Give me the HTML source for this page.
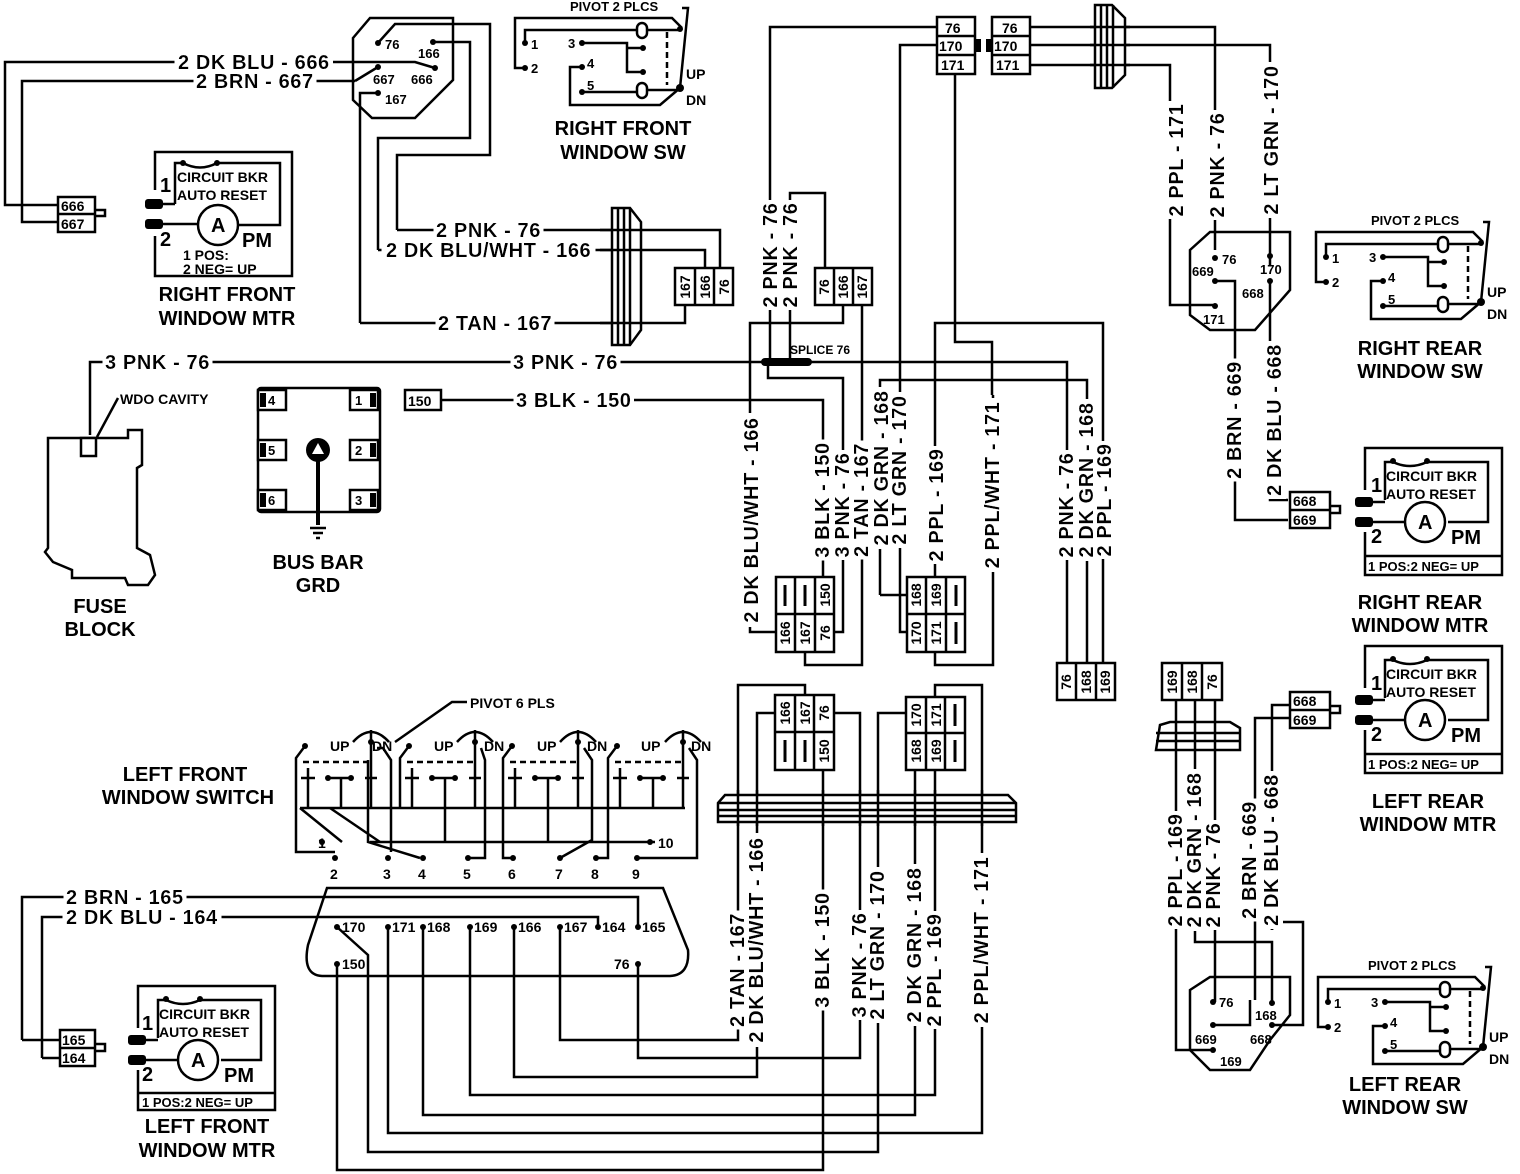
<!DOCTYPE html>
<html><head><meta charset="utf-8"><style>
html,body{margin:0;padding:0;background:#fff}
svg{display:block}
text{font-family:"Liberation Sans",Arial,sans-serif;font-weight:bold;fill:#000}
.w{font-size:20px;letter-spacing:0.6px;filter:url(#bg)}
.t{font-size:20px}
.s{font-size:13px}
.m{font-size:14px}
.c{font-size:14px;text-anchor:middle;dominant-baseline:central}
.l{fill:none;stroke:#000;stroke-width:2.5}
.f{fill:#fff;stroke:#000;stroke-width:2.5}
</style></head><body>
<svg width="1520" height="1174" viewBox="0 0 1520 1174" xmlns="http://www.w3.org/2000/svg">
<defs>
<filter id="bg" x="-0.02" y="0" width="1.04" height="1"><feFlood flood-color="#fff"/><feComposite in="SourceGraphic" operator="over"/></filter>
</defs>

<!-- ===== TOP LEFT ===== -->
<path class="l" d="M340,62 H5 V205 H58"/>
<path class="l" d="M355,81 H22 V222 H58"/>
<path class="l" d="M340,62 H415 L435,68"/>
<path class="l" d="M355,81 L378,67"/>
<text class="w" x="178" y="69">2 DK BLU - 666</text>
<text class="w" x="196" y="88">2 BRN - 667</text>
<rect class="f" x="58" y="197" width="37" height="35"/>
<line class="l" x1="58" y1="214" x2="95" y2="214"/>
<path class="l" d="M95,210 H105 V216 H95"/>
<text class="m" x="61" y="211">666</text><text class="m" x="61" y="229">667</text>

<polygon class="l" points="353,38 370,18 453,18 453,80 415,118 372,118 353,100"/>
<circle cx="378" cy="43" r="3"/><circle cx="433" cy="42" r="3"/><circle cx="435" cy="68" r="3"/><circle cx="378" cy="67" r="3"/><circle cx="378" cy="93" r="3"/>
<text class="s" x="385" y="49">76</text><text class="s" x="418" y="58">166</text>
<text class="s" x="373" y="84">667</text><text class="s" x="411" y="84">666</text><text class="s" x="385" y="104">167</text>
<path class="l" d="M378,43 L395,24 H490 V155 H397 V230"/>
<path class="l" d="M433,42 H470 V138 H378 V250"/>
<path class="l" d="M378,93 H360 V323"/>
<path class="l" d="M397,230 H720 V268"/>
<path class="l" d="M378,250 H705 V268"/>
<path class="l" d="M360,323 H685 V305"/>
<text class="w" x="436" y="237">2 PNK - 76</text>
<text class="w" x="386" y="257">2 DK BLU/WHT - 166</text>
<text class="w" x="438" y="330">2 TAN - 167</text>
<path class="f" d="M612,208 H630 L641,222 V330 L630,345 H612 Z"/>
<line class="l" x1="618" y1="208" x2="618" y2="345"/><line class="l" x1="624" y1="208" x2="624" y2="345"/><line class="l" x1="630" y1="208" x2="630" y2="345"/>
<line class="l" x1="600" y1="230" x2="641" y2="230"/><line class="l" x1="600" y1="250" x2="641" y2="250"/><line class="l" x1="600" y1="323" x2="641" y2="323"/>
<rect class="f" x="675" y="268" width="58" height="37"/>
<line class="l" x1="695" y1="268" x2="695" y2="305"/><line class="l" x1="714" y1="268" x2="714" y2="305"/>
<text class="c" transform="translate(685,287) rotate(-90)">167</text>
<text class="c" transform="translate(705,287) rotate(-90)">166</text>
<text class="c" transform="translate(724,287) rotate(-90)">76</text>

<g transform="translate(155,152)">
<path class="l" d="M0,38 V0 H137 V124 H0 V84"/>
<path class="l" d="M20,52 V11 H28 M62,11 H125 V73 H83"/>
<path class="l" d="M28,11 Q45,20 62,11"/><circle cx="28" cy="11" r="3"/><circle cx="62" cy="11" r="3"/>
<rect x="-10" y="47" width="18" height="10" rx="3"/><rect x="-10" y="67" width="18" height="10" rx="3"/>
<path class="l" d="M8,52 H20 M8,72 H43"/>
<circle class="f" cx="63" cy="73" r="20"/>
<text class="t" x="56" y="80">A</text>
<text class="m" x="22" y="30">CIRCUIT BKR</text><text class="m" x="22" y="48">AUTO RESET</text>
<text class="t" x="5" y="40">1</text><text class="t" x="5" y="94">2</text>
<text class="t" x="87" y="95">PM</text>
<text class="m" x="28" y="108">1 POS:</text><text class="m" x="28" y="122">2 NEG= UP</text>
</g>
<text class="t" x="227" y="301" text-anchor="middle">RIGHT FRONT</text>
<text class="t" x="227" y="325" text-anchor="middle">WINDOW MTR</text>

<g transform="translate(500,0)">
<path class="l" d="M25,68 H15 V18 H172 L182,28"/>
<path class="l" d="M25,43 V30 H137 M147,30 H180"/>
<rect class="f" x="137" y="23" width="10" height="15" rx="5"/>
<path class="l" d="M82,43 H127 V72 H143 M127,48 H143"/>
<circle cx="143" cy="48" r="3"/><circle cx="143" cy="72" r="3"/>
<path class="l" d="M82,67 H70 V105 H160 L180,88"/>
<path class="l" d="M82,92 H137 M147,90 H180"/>
<rect class="f" x="137" y="83" width="10" height="15" rx="5"/>
<line class="l" x1="167" y1="32" x2="167" y2="85" stroke-dasharray="6,4"/>
<path class="l" d="M182,8 H188 L180,88"/>
<circle cx="180" cy="29" r="3"/><circle cx="180" cy="88" r="4"/>
<circle cx="25" cy="43" r="3"/><circle cx="25" cy="68" r="3"/><circle cx="82" cy="43" r="3"/><circle cx="82" cy="67" r="3"/><circle cx="82" cy="92" r="3"/>
<text class="s" x="70" y="11">PIVOT 2 PLCS</text>
<text class="s" x="31" y="49">1</text><text class="s" x="31" y="73">2</text>
<text class="s" x="68" y="48">3</text><text class="s" x="87" y="68">4</text><text class="s" x="87" y="90">5</text>
<text class="m" x="186" y="79">UP</text><text class="m" x="186" y="105">DN</text>
</g>
<text class="t" x="623" y="135" text-anchor="middle">RIGHT FRONT</text>
<text class="t" x="623" y="159" text-anchor="middle">WINDOW SW</text>

<!-- ===== TOP CENTER ===== -->
<rect class="f" x="937" y="17" width="38" height="57"/>
<line class="l" x1="937" y1="36" x2="975" y2="36"/><line class="l" x1="937" y1="55" x2="975" y2="55"/>
<rect class="f" x="992" y="17" width="38" height="57"/>
<line class="l" x1="992" y1="36" x2="1030" y2="36"/><line class="l" x1="992" y1="55" x2="1030" y2="55"/>
<rect x="975" y="39" width="6" height="13"/><rect x="986" y="39" width="6" height="13"/>
<text class="m" x="945" y="33">76</text><text class="m" x="939" y="51">170</text><text class="m" x="941" y="70">171</text>
<text class="m" x="1002" y="33">76</text><text class="m" x="994" y="51">170</text><text class="m" x="996" y="70">171</text>

<path class="l" d="M937,27 H770 V362"/>
<path class="l" d="M937,45 H900 V395"/>
<path class="l" d="M955,74 V342 H992 V395"/>
<path class="l" d="M935,580 V323 H1103 V663"/>
<path class="l" d="M1030,27 H1215 V250"/>
<path class="l" d="M1030,45 H1270 V265"/>
<path class="l" d="M1030,65 H1170 V305 H1213"/>
<path class="f" d="M1095,5 H1112 L1125,18 V75 L1112,88 H1095 Z"/>
<line class="l" x1="1101" y1="5" x2="1101" y2="88"/><line class="l" x1="1107" y1="5" x2="1107" y2="88"/><line class="l" x1="1113" y1="5" x2="1113" y2="88"/>
<line class="l" x1="1090" y1="27" x2="1130" y2="27"/><line class="l" x1="1090" y1="45" x2="1130" y2="45"/><line class="l" x1="1090" y1="65" x2="1130" y2="65"/>
<text class="w" transform="translate(1183,160) rotate(-90)" text-anchor="middle">2 PPL - 171</text>
<text class="w" transform="translate(1224,165) rotate(-90)" text-anchor="middle">2 PNK - 76</text>
<text class="w" transform="translate(1278,140) rotate(-90)" text-anchor="middle">2 LT GRN - 170</text>

<path class="l" d="M790,305 V193 H825 V268"/>
<rect class="f" x="815" y="268" width="57" height="37"/>
<line class="l" x1="834" y1="268" x2="834" y2="305"/><line class="l" x1="853" y1="268" x2="853" y2="305"/>
<text class="c" transform="translate(824,287) rotate(-90)">76</text>
<text class="c" transform="translate(843,287) rotate(-90)">166</text>
<text class="c" transform="translate(862,287) rotate(-90)">167</text>
<path class="l" d="M843,305 V323 H750 V632 H776"/>
<path class="l" d="M862,305 V665 H805 V652"/>
<path class="l" d="M790,305 V362"/>
<path class="l" d="M768,362 V378 H843 V632 H834"/>
<path d="M765,362 H808" stroke="#000" stroke-width="8" stroke-linecap="round"/>
<text class="s" x="790" y="354" style="font-size:12px">SPLICE 76</text>
<text class="w" transform="translate(777,255) rotate(-90)" text-anchor="middle">2 PNK - 76</text>
<text class="w" transform="translate(797,255) rotate(-90)" text-anchor="middle">2 PNK - 76</text>

<path class="l" d="M90,435 V362 H1067 V663"/>
<text class="w" x="105" y="369">3 PNK - 76</text>
<text class="w" x="513" y="369">3 PNK - 76</text>
<rect class="f" x="405" y="390" width="36" height="20"/><text class="m" x="408" y="406">150</text>
<path class="l" d="M441,400 H823 V577"/>
<text class="w" x="516" y="407">3 BLK - 150</text>
<path class="l" d="M880,595 V380 H1087 V663"/>
<path class="l" d="M907,595 H880"/>
<path class="l" d="M907,632 H900 V395"/>
<path class="l" d="M935,652 V665 H993 V395"/>

<text class="w" transform="translate(758,520) rotate(-90)" text-anchor="middle">2 DK BLU/WHT - 166</text>
<text class="w" transform="translate(829,500) rotate(-90)" text-anchor="middle">3 BLK - 150</text>
<text class="w" transform="translate(849,505) rotate(-90)" text-anchor="middle">3 PNK - 76</text>
<text class="w" transform="translate(868,500) rotate(-90)" text-anchor="middle">2 TAN - 167</text>
<text class="w" transform="translate(888,468) rotate(-90)" text-anchor="middle">2 DK GRN - 168</text>
<text class="w" transform="translate(906,470) rotate(-90)" text-anchor="middle">2 LT GRN - 170</text>
<text class="w" transform="translate(943,505) rotate(-90)" text-anchor="middle">2 PPL - 169</text>
<text class="w" transform="translate(999,485) rotate(-90)" text-anchor="middle">2 PPL/WHT - 171</text>
<text class="w" transform="translate(1073,505) rotate(-90)" text-anchor="middle">2 PNK - 76</text>
<text class="w" transform="translate(1093,480) rotate(-90)" text-anchor="middle">2 DK GRN - 168</text>
<text class="w" transform="translate(1111,500) rotate(-90)" text-anchor="middle">2 PPL - 169</text>

<rect class="f" x="776" y="577" width="58" height="75"/>
<line class="l" x1="795" y1="577" x2="795" y2="652"/><line class="l" x1="815" y1="577" x2="815" y2="652"/><line class="l" x1="776" y1="614" x2="834" y2="614"/>
<line x1="785" y1="585" x2="785" y2="606" stroke="#000" stroke-width="3"/><line x1="805" y1="585" x2="805" y2="606" stroke="#000" stroke-width="3"/>
<text class="c" transform="translate(825,595) rotate(-90)">150</text>
<text class="c" transform="translate(785,633) rotate(-90)">166</text>
<text class="c" transform="translate(805,633) rotate(-90)">167</text>
<text class="c" transform="translate(825,633) rotate(-90)">76</text>

<rect class="f" x="907" y="577" width="58" height="75"/>
<line class="l" x1="926" y1="577" x2="926" y2="652"/><line class="l" x1="946" y1="577" x2="946" y2="652"/><line class="l" x1="907" y1="614" x2="965" y2="614"/>
<line x1="956" y1="585" x2="956" y2="606" stroke="#000" stroke-width="3"/><line x1="956" y1="622" x2="956" y2="644" stroke="#000" stroke-width="3"/>
<text class="c" transform="translate(916,595) rotate(-90)">168</text>
<text class="c" transform="translate(936,595) rotate(-90)">169</text>
<text class="c" transform="translate(916,633) rotate(-90)">170</text>
<text class="c" transform="translate(936,633) rotate(-90)">171</text>

<rect class="f" x="1057" y="663" width="58" height="37"/>
<line class="l" x1="1076" y1="663" x2="1076" y2="700"/><line class="l" x1="1096" y1="663" x2="1096" y2="700"/>
<text class="c" transform="translate(1066,682) rotate(-90)">76</text>
<text class="c" transform="translate(1086,682) rotate(-90)">168</text>
<text class="c" transform="translate(1105,682) rotate(-90)">169</text>

<!-- fuse block -->
<path class="l" d="M48,438 H128 V430 H142 V465 L137,468 V548 L150,555 L155,575 L148,585 H128 L125,578 H72 V570 L53,562 L45,552 L48,548 Z"/>
<rect class="f" x="81" y="438" width="15" height="18"/>
<path class="l" d="M97,437 L118,398"/>
<text class="s" x="120" y="404" style="font-size:14px">WDO CAVITY</text>
<text class="t" x="100" y="613" text-anchor="middle">FUSE</text>
<text class="t" x="100" y="636" text-anchor="middle">BLOCK</text>

<!-- bus bar -->
<rect class="l" x="258" y="388" width="122" height="124" rx="3"/>
<g>
<rect class="f" x="258" y="390" width="28" height="20"/><rect x="260" y="393" width="6" height="14"/><text class="s" x="268" y="405">4</text>
<rect class="f" x="258" y="440" width="28" height="20"/><rect x="260" y="443" width="6" height="14"/><text class="s" x="268" y="455">5</text>
<rect class="f" x="258" y="490" width="28" height="20"/><rect x="260" y="493" width="6" height="14"/><text class="s" x="268" y="505">6</text>
<rect class="f" x="350" y="390" width="28" height="20"/><rect x="370" y="393" width="6" height="14"/><text class="s" x="355" y="405">1</text>
<rect class="f" x="350" y="440" width="28" height="20"/><rect x="370" y="443" width="6" height="14"/><text class="s" x="355" y="455">2</text>
<rect class="f" x="350" y="490" width="28" height="20"/><rect x="370" y="493" width="6" height="14"/><text class="s" x="355" y="505">3</text>
</g>
<circle cx="318" cy="450" r="12"/><polygon points="318,443 312,454 324,454" fill="#fff"/>
<line x1="318" y1="460" x2="318" y2="525" stroke="#000" stroke-width="4"/>
<path class="l" d="M310,528 H326 M313,533 H323 M316,538 H320"/>
<text class="t" x="318" y="569" text-anchor="middle">BUS BAR</text>
<text class="t" x="318" y="592" text-anchor="middle">GRD</text>

<!-- ===== RIGHT SIDE ===== -->
<polygon class="l" points="1190,250 1210,232 1290,232 1290,290 1255,330 1210,330 1190,315"/>
<circle cx="1215" cy="258" r="3"/><circle cx="1270" cy="256" r="3"/><circle cx="1215" cy="281" r="3"/><circle cx="1270" cy="281" r="3"/><circle cx="1215" cy="306" r="3"/>
<text class="s" x="1222" y="264">76</text><text class="s" x="1260" y="274">170</text>
<text class="s" x="1192" y="276">669</text><text class="s" x="1242" y="298">668</text><text class="s" x="1203" y="324">171</text>
<path class="l" d="M1215,281 H1235 V520 H1288"/>
<path class="l" d="M1270,281 V500 H1288"/>
<text class="w" transform="translate(1241,420) rotate(-90)" text-anchor="middle">2 BRN - 669</text>
<text class="w" transform="translate(1281,420) rotate(-90)" text-anchor="middle">2 DK BLU - 668</text>
<rect class="f" x="1290" y="492" width="40" height="36"/>
<line class="l" x1="1290" y1="510" x2="1330" y2="510"/>
<path class="l" d="M1330,506 H1340 V513 H1330"/>
<text class="m" x="1293" y="506">668</text><text class="m" x="1293" y="525">669</text>

<g transform="translate(1301,214)">
<path class="l" d="M25,68 H15 V18 H172 L182,28"/>
<path class="l" d="M25,43 V30 H137 M147,30 H180"/>
<rect class="f" x="137" y="23" width="10" height="15" rx="5"/>
<path class="l" d="M82,43 H127 V72 H143 M127,48 H143"/>
<circle cx="143" cy="48" r="3"/><circle cx="143" cy="72" r="3"/>
<path class="l" d="M82,67 H70 V105 H160 L180,88"/>
<path class="l" d="M82,92 H137 M147,90 H180"/>
<rect class="f" x="137" y="83" width="10" height="15" rx="5"/>
<line class="l" x1="167" y1="32" x2="167" y2="85" stroke-dasharray="6,4"/>
<path class="l" d="M182,8 H188 L180,88"/>
<circle cx="180" cy="29" r="3"/><circle cx="180" cy="88" r="4"/>
<circle cx="25" cy="43" r="3"/><circle cx="25" cy="68" r="3"/><circle cx="82" cy="43" r="3"/><circle cx="82" cy="67" r="3"/><circle cx="82" cy="92" r="3"/>
<text class="s" x="70" y="11">PIVOT 2 PLCS</text>
<text class="s" x="31" y="49">1</text><text class="s" x="31" y="73">2</text>
<text class="s" x="68" y="48">3</text><text class="s" x="87" y="68">4</text><text class="s" x="87" y="90">5</text>
<text class="m" x="186" y="83">UP</text><text class="m" x="186" y="105">DN</text>
</g>
<text class="t" x="1420" y="355" text-anchor="middle">RIGHT REAR</text>
<text class="t" x="1420" y="378" text-anchor="middle">WINDOW SW</text>

<g transform="translate(1365,448)">
<path class="l" d="M0,42 V0 H137 V127 H0 V84"/>
<path class="l" d="M20,52 V14 H28 M62,14 H123 V74 H83"/>
<path class="l" d="M28,14 Q45,22 62,14"/><circle cx="28" cy="13" r="3"/><circle cx="62" cy="13" r="3"/>
<rect x="-10" y="49" width="18" height="10" rx="3"/><rect x="-10" y="69" width="18" height="10" rx="3"/>
<path class="l" d="M8,54 H20 M8,74 H40"/>
<circle class="f" cx="60" cy="74" r="20"/>
<text class="t" x="53" y="81">A</text>
<text class="m" x="21" y="33">CIRCUIT BKR</text><text class="m" x="21" y="51">AUTO RESET</text>
<text class="t" x="6" y="44">1</text><text class="t" x="6" y="95">2</text>
<text class="t" x="86" y="96">PM</text>
<line class="l" x1="0" y1="108" x2="137" y2="108"/>
<text class="s" x="3" y="123">1 POS:2 NEG= UP</text>
</g>
<text class="t" x="1420" y="609" text-anchor="middle">RIGHT REAR</text>
<text class="t" x="1420" y="632" text-anchor="middle">WINDOW MTR</text>

<g transform="translate(1365,646)">
<path class="l" d="M0,42 V0 H137 V127 H0 V84"/>
<path class="l" d="M20,52 V14 H28 M62,14 H123 V74 H83"/>
<path class="l" d="M28,14 Q45,22 62,14"/><circle cx="28" cy="13" r="3"/><circle cx="62" cy="13" r="3"/>
<rect x="-10" y="49" width="18" height="10" rx="3"/><rect x="-10" y="69" width="18" height="10" rx="3"/>
<path class="l" d="M8,54 H20 M8,74 H40"/>
<circle class="f" cx="60" cy="74" r="20"/>
<text class="t" x="53" y="81">A</text>
<text class="m" x="21" y="33">CIRCUIT BKR</text><text class="m" x="21" y="51">AUTO RESET</text>
<text class="t" x="6" y="44">1</text><text class="t" x="6" y="95">2</text>
<text class="t" x="86" y="96">PM</text>
<line class="l" x1="0" y1="108" x2="137" y2="108"/>
<text class="s" x="3" y="123">1 POS:2 NEG= UP</text>
</g>
<text class="t" x="1428" y="808" text-anchor="middle">LEFT REAR</text>
<text class="t" x="1428" y="831" text-anchor="middle">WINDOW MTR</text>

<rect class="f" x="1162" y="663" width="60" height="37"/>
<line class="l" x1="1182" y1="663" x2="1182" y2="700"/><line class="l" x1="1202" y1="663" x2="1202" y2="700"/>
<text class="c" transform="translate(1172,682) rotate(-90)">169</text>
<text class="c" transform="translate(1192,682) rotate(-90)">168</text>
<text class="c" transform="translate(1212,682) rotate(-90)">76</text>
<path class="f" d="M1160,725 L1170,722 H1230 L1240,728 V750 H1156 Z"/>
<line class="l" x1="1156" y1="733" x2="1240" y2="733"/><line class="l" x1="1156" y1="741" x2="1240" y2="741"/>
<path class="l" d="M1176,700 V1050 H1213"/>
<path class="l" d="M1195,700 V942 H1272 V1003"/>
<path class="l" d="M1215,700 V1002"/>
<path class="l" d="M1255,1000 V718 H1290"/>
<path class="l" d="M1272,930 V705 H1290"/>
<path class="l" d="M1272,930 V922 H1303 V1025 H1272"/>
<path class="l" d="M1213,1025 H1250 V1000"/>
<text class="w" transform="translate(1182,870) rotate(-90)" text-anchor="middle">2 PPL - 169</text>
<text class="w" transform="translate(1201,850) rotate(-90)" text-anchor="middle">2 DK GRN - 168</text>
<text class="w" transform="translate(1220,875) rotate(-90)" text-anchor="middle">2 PNK - 76</text>
<text class="w" transform="translate(1256,860) rotate(-90)" text-anchor="middle">2 BRN - 669</text>
<text class="w" transform="translate(1278,850) rotate(-90)" text-anchor="middle">2 DK BLU - 668</text>
<rect class="f" x="1290" y="692" width="40" height="36"/>
<line class="l" x1="1290" y1="710" x2="1330" y2="710"/>
<path class="l" d="M1330,706 H1340 V713 H1330"/>
<text class="m" x="1293" y="706">668</text><text class="m" x="1293" y="725">669</text>
<polygon class="l" points="1190,990 1210,977 1290,977 1290,1015 1270,1040 1250,1070 1210,1070 1190,1050"/>
<circle cx="1213" cy="1002" r="3"/><circle cx="1272" cy="1003" r="3"/><circle cx="1213" cy="1025" r="3"/><circle cx="1272" cy="1025" r="3"/><circle cx="1213" cy="1050" r="3"/>
<text class="s" x="1219" y="1007">76</text><text class="s" x="1255" y="1020">168</text>
<text class="s" x="1195" y="1044">669</text><text class="s" x="1250" y="1044">668</text><text class="s" x="1220" y="1066">169</text>

<g transform="translate(1303,959)">
<path class="l" d="M25,68 H15 V18 H172 L182,28"/>
<path class="l" d="M25,43 V30 H137 M147,30 H180"/>
<rect class="f" x="137" y="23" width="10" height="15" rx="5"/>
<path class="l" d="M82,43 H127 V72 H143 M127,48 H143"/>
<circle cx="143" cy="48" r="3"/><circle cx="143" cy="72" r="3"/>
<path class="l" d="M82,67 H70 V105 H160 L180,88"/>
<path class="l" d="M82,92 H137 M147,90 H180"/>
<rect class="f" x="137" y="83" width="10" height="15" rx="5"/>
<line class="l" x1="167" y1="32" x2="167" y2="85" stroke-dasharray="6,4"/>
<path class="l" d="M182,8 H188 L180,88"/>
<circle cx="180" cy="29" r="3"/><circle cx="180" cy="88" r="4"/>
<circle cx="25" cy="43" r="3"/><circle cx="25" cy="68" r="3"/><circle cx="82" cy="43" r="3"/><circle cx="82" cy="67" r="3"/><circle cx="82" cy="92" r="3"/>
<text class="s" x="65" y="11">PIVOT 2 PLCS</text>
<text class="s" x="31" y="49">1</text><text class="s" x="31" y="73">2</text>
<text class="s" x="68" y="48">3</text><text class="s" x="87" y="68">4</text><text class="s" x="87" y="90">5</text>
<text class="m" x="186" y="83">UP</text><text class="m" x="186" y="105">DN</text>
</g>
<text class="t" x="1405" y="1091" text-anchor="middle">LEFT REAR</text>
<text class="t" x="1405" y="1114" text-anchor="middle">WINDOW SW</text>

<!-- ===== LOWER CENTER ===== -->
<rect class="f" x="775" y="695" width="59" height="75"/>
<line class="l" x1="795" y1="695" x2="795" y2="770"/><line class="l" x1="814" y1="695" x2="814" y2="770"/><line class="l" x1="775" y1="732" x2="834" y2="732"/>
<line x1="785" y1="740" x2="785" y2="762" stroke="#000" stroke-width="3"/><line x1="805" y1="740" x2="805" y2="762" stroke="#000" stroke-width="3"/>
<text class="c" transform="translate(785,713) rotate(-90)">166</text>
<text class="c" transform="translate(805,713) rotate(-90)">167</text>
<text class="c" transform="translate(824,713) rotate(-90)">76</text>
<text class="c" transform="translate(824,751) rotate(-90)">150</text>

<rect class="f" x="906" y="697" width="59" height="73"/>
<line class="l" x1="926" y1="697" x2="926" y2="770"/><line class="l" x1="945" y1="697" x2="945" y2="770"/><line class="l" x1="906" y1="733" x2="965" y2="733"/>
<line x1="955" y1="704" x2="955" y2="726" stroke="#000" stroke-width="3"/><line x1="955" y1="740" x2="955" y2="762" stroke="#000" stroke-width="3"/>
<text class="c" transform="translate(916,715) rotate(-90)">170</text>
<text class="c" transform="translate(936,715) rotate(-90)">171</text>
<text class="c" transform="translate(916,751) rotate(-90)">168</text>
<text class="c" transform="translate(936,751) rotate(-90)">169</text>

<path class="l" d="M805,695 V685 H738 V1040 H560 V927"/>
<path class="l" d="M775,713 H757 V1077 H514 V927"/>
<path class="l" d="M834,713 H860 V1058 H638 V964"/>
<path class="l" d="M823,770 V1170 H337 V964"/>
<path class="l" d="M906,713 H878 V1152 H368 V955 L337,927"/>
<path class="l" d="M935,697 V685 H982 V1133 H388 V927"/>
<path class="l" d="M915,770 V1115 H423 V927"/>
<path class="l" d="M935,770 V1095 H470 V927"/>
<path class="f" d="M725,795 H1008 L1016,803 V822 H718 V803 Z"/>
<line class="l" x1="718" y1="803" x2="1016" y2="803"/><line class="l" x1="718" y1="810" x2="1016" y2="810"/><line class="l" x1="718" y1="816" x2="1016" y2="816"/>
<g stroke="#000" stroke-width="2.5">
<line x1="738" y1="790" x2="738" y2="826"/><line x1="757" y1="790" x2="757" y2="826"/><line x1="823" y1="790" x2="823" y2="826"/><line x1="860" y1="790" x2="860" y2="826"/><line x1="878" y1="790" x2="878" y2="826"/><line x1="915" y1="790" x2="915" y2="826"/><line x1="935" y1="790" x2="935" y2="826"/><line x1="982" y1="790" x2="982" y2="826"/>
</g>
<text class="w" transform="translate(744,970) rotate(-90)" text-anchor="middle">2 TAN - 167</text>
<text class="w" transform="translate(763,940) rotate(-90)" text-anchor="middle">2 DK BLU/WHT - 166</text>
<text class="w" transform="translate(829,950) rotate(-90)" text-anchor="middle">3 BLK - 150</text>
<text class="w" transform="translate(866,965) rotate(-90)" text-anchor="middle">3 PNK - 76</text>
<text class="w" transform="translate(884,945) rotate(-90)" text-anchor="middle">2 LT GRN - 170</text>
<text class="w" transform="translate(921,945) rotate(-90)" text-anchor="middle">2 DK GRN - 168</text>
<text class="w" transform="translate(941,970) rotate(-90)" text-anchor="middle">2 PPL - 169</text>
<text class="w" transform="translate(988,940) rotate(-90)" text-anchor="middle">2 PPL/WHT - 171</text>

<path class="l" d="M327,888 H663 L688,950 Q690,975 670,976 H322 Q302,975 308,945 Z"/>
<g>
<circle cx="337" cy="927" r="3"/><circle cx="388" cy="927" r="3"/><circle cx="423" cy="927" r="3"/><circle cx="470" cy="927" r="3"/><circle cx="514" cy="927" r="3"/><circle cx="560" cy="927" r="3"/><circle cx="598" cy="927" r="3"/><circle cx="638" cy="927" r="3"/><circle cx="638" cy="964" r="3"/><circle cx="337" cy="964" r="3"/>
</g>
<text class="m" x="342" y="932">170</text><text class="m" x="392" y="932">171</text><text class="m" x="427" y="932">168</text><text class="m" x="474" y="932">169</text><text class="m" x="518" y="932">166</text><text class="m" x="564" y="932">167</text><text class="m" x="602" y="932">164</text><text class="m" x="642" y="932">165</text>
<text class="m" x="614" y="969">76</text><text class="m" x="342" y="969">150</text>
<path class="l" d="M22,1040 V897 H638 V927"/>
<path class="l" d="M42,1058 V917 H598 V927"/>
<text class="w" x="66" y="904">2 BRN - 165</text>
<text class="w" x="66" y="924">2 DK BLU - 164</text>
<path class="l" d="M22,1040 H60 M42,1058 H60"/>
<rect class="f" x="60" y="1030" width="35" height="36"/>
<line class="l" x1="60" y1="1048" x2="95" y2="1048"/>
<path class="l" d="M95,1044 H105 V1051 H95"/>
<text class="m" x="62" y="1045">165</text><text class="m" x="62" y="1063">164</text>

<g transform="translate(138,986)">
<path class="l" d="M0,42 V0 H137 V124 H0 V84"/>
<path class="l" d="M20,52 V14 H28 M62,14 H123 V74 H83"/>
<path class="l" d="M28,14 Q45,22 62,14"/><circle cx="28" cy="13" r="3"/><circle cx="62" cy="13" r="3"/>
<rect x="-10" y="49" width="18" height="10" rx="3"/><rect x="-10" y="69" width="18" height="10" rx="3"/>
<path class="l" d="M8,54 H20 M8,74 H40"/>
<circle class="f" cx="60" cy="74" r="20"/>
<text class="t" x="53" y="81">A</text>
<text class="m" x="21" y="33">CIRCUIT BKR</text><text class="m" x="21" y="51">AUTO RESET</text>
<text class="t" x="4" y="44">1</text><text class="t" x="4" y="95">2</text>
<text class="t" x="86" y="96">PM</text>
<line class="l" x1="0" y1="107" x2="137" y2="107"/>
<text class="s" x="4" y="121">1 POS:2 NEG= UP</text>
</g>
<text class="t" x="207" y="1133" text-anchor="middle">LEFT FRONT</text>
<text class="t" x="207" y="1157" text-anchor="middle">WINDOW MTR</text>

<text class="t" x="185" y="781" text-anchor="middle">LEFT FRONT</text>
<text class="t" x="188" y="804" text-anchor="middle">WINDOW SWITCH</text>
<text class="s" x="470" y="708" style="font-size:14px">PIVOT 6 PLS</text>
<path class="l" d="M467,702 H452 L395,742"/>
<path class="l" d="M300,808 H685"/>
<path class="l" d="M370,842 H655"/>
<g>
<g transform="translate(293,0)">
<path class="l" d="M12,746 L3,758 V852 H42"/>
<line class="l" x1="10" y1="762" x2="80" y2="762" stroke-dasharray="6,4"/>
<path class="l" d="M15,768 V778 M8,778 H22 M15,778 V808"/>
<circle cx="12" cy="746" r="3"/>
<path class="l" d="M35,778 H58 M48,778 V808"/><circle cx="35" cy="778" r="3"/><circle cx="58" cy="778" r="3"/>
<path class="l" d="M78,730 V808 M72,778 H84"/>
<path class="l" d="M60,742 Q78,722 96,742"/>
<path class="l" d="M84,748 H90 L98,760 V852"/>
<circle cx="78" cy="742" r="3"/>
</g>
<g transform="translate(397,0)">
<path class="l" d="M12,746 L3,758 V808"/>
<line class="l" x1="10" y1="762" x2="80" y2="762" stroke-dasharray="6,4"/>
<path class="l" d="M15,768 V778 M8,778 H22 M15,778 V808"/>
<circle cx="12" cy="746" r="3"/>
<path class="l" d="M35,778 H58 M48,778 V842"/><circle cx="35" cy="778" r="3"/><circle cx="58" cy="778" r="3"/>
<path class="l" d="M78,730 V808 M72,778 H84"/>
<path class="l" d="M60,742 Q78,722 96,742"/>
<path class="l" d="M84,748 L88,760 V858 H72"/>
<circle cx="78" cy="742" r="3"/>
</g>
<g transform="translate(500,0)">
<path class="l" d="M12,746 L3,758 V858 H13"/>
<line class="l" x1="10" y1="762" x2="80" y2="762" stroke-dasharray="6,4"/>
<path class="l" d="M15,768 V778 M8,778 H22 M15,778 V808"/>
<circle cx="12" cy="746" r="3"/>
<path class="l" d="M35,778 H58 M48,778 V842"/><circle cx="35" cy="778" r="3"/><circle cx="58" cy="778" r="3"/>
<path class="l" d="M78,730 V808 M72,778 H84"/>
<path class="l" d="M60,742 Q78,722 96,742"/>
<path class="l" d="M84,748 L92,760 V840 L60,858"/>
<circle cx="78" cy="742" r="3"/>
</g>
<g transform="translate(605,0)">
<path class="l" d="M12,746 L3,758 V858 H-9"/>
<line class="l" x1="10" y1="762" x2="80" y2="762" stroke-dasharray="6,4"/>
<path class="l" d="M15,768 V778 M8,778 H22 M15,778 V808"/>
<circle cx="12" cy="746" r="3"/>
<path class="l" d="M35,778 H58 M48,778 V808"/><circle cx="35" cy="778" r="3"/><circle cx="58" cy="778" r="3"/>
<path class="l" d="M78,730 V808 M72,778 H84"/>
<path class="l" d="M60,742 Q78,722 96,742"/>
<path class="l" d="M84,748 L92,760 V858 H32"/>
<circle cx="78" cy="742" r="3"/>
</g>
</g>
<path class="l" d="M300,808 L342,842 M330,808 L380,842 M368,760 V842 L420,858"/>
<g>
<circle cx="335" cy="858" r="3"/><circle cx="322" cy="842" r="3"/><circle cx="388" cy="858" r="3"/><circle cx="423" cy="858" r="3"/><circle cx="468" cy="858" r="3"/><circle cx="513" cy="858" r="3"/><circle cx="560" cy="858" r="3"/><circle cx="596" cy="858" r="3"/><circle cx="637" cy="858" r="3"/><circle cx="650" cy="842" r="3"/>
</g>
<text class="m" x="318" y="848">1</text><text class="m" x="658" y="848">10</text>
<text class="m" x="330" y="879">2</text><text class="m" x="383" y="879">3</text><text class="m" x="418" y="879">4</text><text class="m" x="463" y="879">5</text><text class="m" x="508" y="879">6</text><text class="m" x="555" y="879">7</text><text class="m" x="591" y="879">8</text><text class="m" x="632" y="879">9</text>
<text class="m" x="330" y="751">UP</text><text class="m" x="372" y="751">DN</text>
<text class="m" x="434" y="751">UP</text><text class="m" x="484" y="751">DN</text>
<text class="m" x="537" y="751">UP</text><text class="m" x="587" y="751">DN</text>
<text class="m" x="641" y="751">UP</text><text class="m" x="691" y="751">DN</text>
</svg>
</body></html>
